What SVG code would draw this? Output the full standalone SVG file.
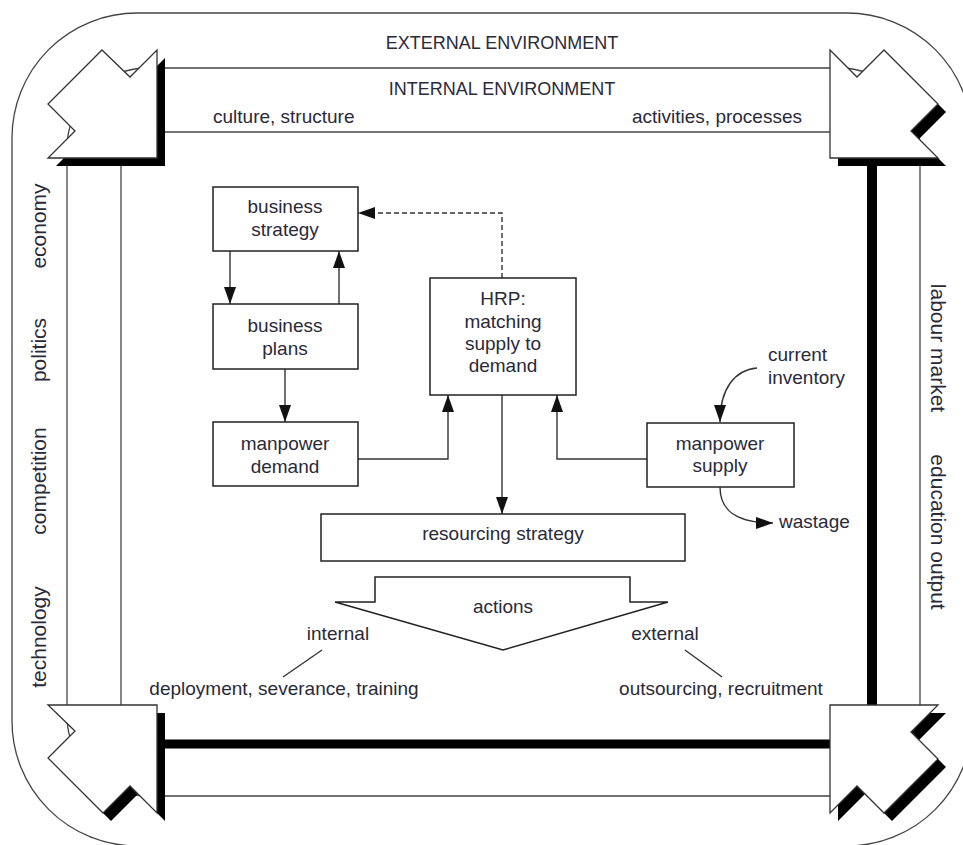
<svg xmlns="http://www.w3.org/2000/svg" width="963" height="845" viewBox="0 0 963 845">
<defs>
<style>
.t{font-family:"Liberation Sans",Arial,sans-serif;font-size:19px;fill:#2a2a38}
.c{font-size:18px}
.s{font-family:"Liberation Sans",Arial,sans-serif;font-size:21px;fill:#2a2a38}
.m{text-anchor:middle}
.e{text-anchor:end}
.box{fill:#fff;stroke:#222;stroke-width:1.5}
.ln{fill:none;stroke:#333;stroke-width:1.4}
.thin{fill:none;stroke:#444;stroke-width:1.3}
.thick{fill:none;stroke:#000}
.arw{fill:#fff;stroke:#333;stroke-width:1.3;stroke-linejoin:miter}
.sh{fill:#000}
</style>
<marker id="ah" viewBox="0 0 17 12" refX="17" refY="6" markerWidth="17" markerHeight="12" markerUnits="userSpaceOnUse" orient="auto">
<path d="M0,0 L17,6 L0,12 Z" fill="#111"/>
</marker>
</defs>
<rect width="963" height="845" fill="#fff"/>

<g id="environment">
<rect x="12" y="13" width="960" height="833" rx="125" ry="125" class="thin"/>
<rect x="67" y="68" width="853" height="728" rx="80" ry="80" class="thin"/>
<line x1="157" y1="132" x2="830" y2="132" class="thin"/>
<line x1="121" y1="158" x2="121" y2="705" class="thin"/>
<line x1="872" y1="158" x2="872" y2="705" class="thick" stroke-width="10"/>
<line x1="157" y1="744" x2="830" y2="744" class="thick" stroke-width="9"/>
</g>

<g id="corner-tl">
<polygon class="sh" points="110,58 138,85 165,58 165,166 56,166 83,139 56,112"/>
<polygon class="arw" points="102,50 130,77 157,50 157,158 48,158 75,131 48,104"/>
</g>
<g id="corner-tr">
<polygon class="sh" points="838,58 865,85 892,58 946,112 919,139 946,166 838,166"/>
<polygon class="arw" points="830,50 857,77 884,50 938,104 911,131 938,158 830,158"/>
</g>
<g id="corner-bl">
<polygon class="sh" points="56,713 165,713 165,821 138,794 111,821 56,766 83,739"/>
<polygon class="arw" points="48,705 157,705 157,813 130,786 103,813 48,758 75,731"/>
</g>
<g id="corner-br">
<polygon class="sh" points="838,713 946,713 919,740 946,767 892,821 865,794 838,821"/>
<polygon class="arw" points="830,705 938,705 911,732 938,759 884,813 857,786 830,813"/>
</g>

<g id="env-labels">
<text class="t c m" x="502" y="49">EXTERNAL ENVIRONMENT</text>
<text class="t c m" x="502" y="95">INTERNAL ENVIRONMENT</text>
<text class="t" x="213" y="123">culture, structure</text>
<text class="t e" x="802" y="123">activities, processes</text>
<text class="s m" transform="translate(46,226) rotate(-90)">economy</text>
<text class="s m" transform="translate(46,350) rotate(-90)">politics</text>
<text class="s m" transform="translate(46,481) rotate(-90)">competition</text>
<text class="s m" transform="translate(46,637) rotate(-90)">technology</text>
<text class="s m" transform="translate(931,348) rotate(90)">labour market</text>
<text class="s m" transform="translate(931,532) rotate(90)">education output</text>
</g>

<g id="connectors">
<line x1="230" y1="251" x2="230" y2="304" class="ln" marker-end="url(#ah)"/>
<line x1="339" y1="304" x2="339" y2="251" class="ln" marker-end="url(#ah)"/>
<line x1="285" y1="369" x2="285" y2="422" class="ln" marker-end="url(#ah)"/>
<path d="M358,459 H448 V395" class="ln" marker-end="url(#ah)"/>
<path d="M502,278 V213 H358" class="ln" stroke-dasharray="5,3" marker-end="url(#ah)"/>
<line x1="502" y1="395" x2="502" y2="514" class="ln" marker-end="url(#ah)"/>
<path d="M647,459 H557 V395" class="ln" marker-end="url(#ah)"/>
<path d="M757,368 C735,370 720,388 720,422" class="ln" marker-end="url(#ah)"/>
<path d="M720,487 C720,510 735,523 773,523" class="ln" marker-end="url(#ah)"/>
<line x1="322" y1="650" x2="283" y2="677" class="ln"/>
<line x1="685" y1="650" x2="722" y2="677" class="ln"/>
</g>

<g id="business-strategy">
<rect x="213" y="187" width="145" height="64" class="box"/>
<text class="t m" x="285" y="213">business</text>
<text class="t m" x="285" y="236">strategy</text>
</g>
<g id="business-plans">
<rect x="213" y="304" width="145" height="65" class="box"/>
<text class="t m" x="285" y="332">business</text>
<text class="t m" x="285" y="355">plans</text>
</g>
<g id="manpower-demand">
<rect x="213" y="422" width="145" height="64" class="box"/>
<text class="t m" x="285" y="450">manpower</text>
<text class="t m" x="285" y="473">demand</text>
</g>
<g id="hrp">
<rect x="430" y="278" width="146" height="117" class="box"/>
<text class="t m" x="503" y="305">HRP:</text>
<text class="t m" x="503" y="328">matching</text>
<text class="t m" x="503" y="350">supply to</text>
<text class="t m" x="503" y="372">demand</text>
</g>
<g id="manpower-supply">
<rect x="647" y="423" width="147" height="64" class="box"/>
<text class="t m" x="720" y="450">manpower</text>
<text class="t m" x="720" y="472">supply</text>
</g>
<g id="current-inventory">
<text class="t" x="768" y="361">current</text>
<text class="t" x="768" y="384">inventory</text>
</g>
<g id="wastage">
<text class="t" x="779" y="528">wastage</text>
</g>
<g id="resourcing-strategy">
<rect x="321" y="514" width="364" height="47" class="box"/>
<text class="t m" x="503" y="540">resourcing strategy</text>
</g>
<g id="actions">
<polygon points="375,577 630,577 630,602 668,602 503,650 335,602 375,602" class="box" stroke-width="1.3"/>
<text class="t m" x="503" y="613">actions</text>
</g>
<g id="internal">
<text class="t m" x="338" y="640">internal</text>
<text class="t m" x="284" y="695">deployment, severance, training</text>
</g>
<g id="external">
<text class="t m" x="665" y="640">external</text>
<text class="t m" x="721" y="695">outsourcing, recruitment</text>
</g>
</svg>
